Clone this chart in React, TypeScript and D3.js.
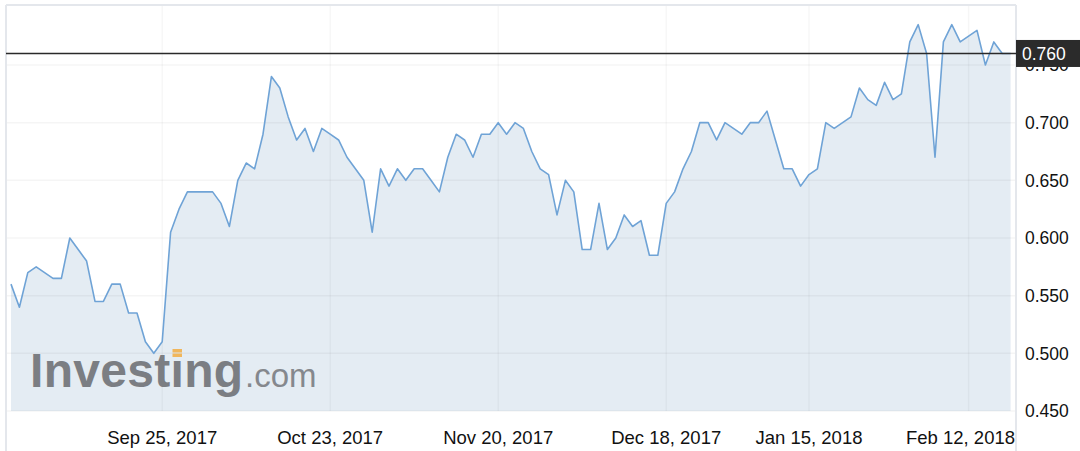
import React from "react";
import * as d3 from "d3";

// Closing prices, one per trading day (index-based x axis)
const prices: number[] = [
  0.56, 0.54, 0.57, 0.575, 0.57, 0.565, 0.565, 0.6, 0.59, 0.58,
  0.545, 0.545, 0.56, 0.56, 0.535, 0.535, 0.51, 0.5, 0.51, 0.605,
  0.625, 0.64, 0.64, 0.64, 0.64, 0.63, 0.61, 0.65, 0.665, 0.66,
  0.69, 0.74, 0.73, 0.705, 0.685, 0.695, 0.675, 0.695, 0.69, 0.685,
  0.67, 0.66, 0.65, 0.605, 0.66, 0.645, 0.66, 0.65, 0.66, 0.66,
  0.65, 0.64, 0.67, 0.69, 0.685, 0.67, 0.69, 0.69, 0.7, 0.69,
  0.7, 0.695, 0.675, 0.66, 0.655, 0.62, 0.65, 0.64, 0.59, 0.59,
  0.63, 0.59, 0.6, 0.62, 0.61, 0.615, 0.585, 0.585, 0.63, 0.64,
  0.66, 0.675, 0.7, 0.7, 0.685, 0.7, 0.695, 0.69, 0.7, 0.7,
  0.71, 0.685, 0.66, 0.66, 0.645, 0.655, 0.66, 0.7, 0.695, 0.7,
  0.705, 0.73, 0.72, 0.715, 0.735, 0.72, 0.725, 0.77, 0.785, 0.76,
  0.67, 0.77, 0.785, 0.77, 0.775, 0.78, 0.75, 0.77, 0.76, 0.76,
];

// X-axis ticks: trading-day index and label
const xTickIndex: number[] = [18, 38, 58, 78, 95, 114];
const xTickLabels: string[] = [
  "Sep 25, 2017",
  "Oct 23, 2017",
  "Nov 20, 2017",
  "Dec 18, 2017",
  "Jan 15, 2018",
  "Feb 12, 2018",
];

const yTicks: number[] = [0.45, 0.5, 0.55, 0.6, 0.65, 0.7, 0.75];
const currentPrice = 0.76;

const W = 1080;
const H = 451;
const frameL = 6;
const frameR = 1016;
const frameT = 5;
const plotBottom = 411;

export default function App() {
  const x = d3.scaleLinear().domain([0, prices.length - 1]).range([11, 1010.6]);
  const y = d3.scaleLinear().domain([0.45, 0.75]).range([plotBottom, 65]);

  const area = d3
    .area<number>()
    .x((_, i) => x(i))
    .y0(plotBottom)
    .y1((d) => y(d));
  const line = d3
    .line<number>()
    .x((_, i) => x(i))
    .y((d) => y(d));

  const font = "'Liberation Sans', Arial, Helvetica, sans-serif";
  const cy = y(currentPrice);

  return (
    <svg
      width={W}
      height={H}
      style={{ position: "absolute", left: 0, top: 0, background: "#fff" }}
      fontFamily={font}
    >
      <rect x={0} y={0} width={W} height={H} fill="#fff" />
      {/* area fill */}
      <path d={area(prices) || ""} fill="#e4ecf3" />

      {/* grid */}
      {yTicks.map((t) => (
        <line
          key={"gy" + t}
          x1={frameL}
          x2={frameR}
          y1={y(t)}
          y2={y(t)}
          stroke="#000"
          strokeOpacity={0.04}
          strokeWidth={1.5}
        />
      ))}
      {xTickIndex.map((ti) => (
        <line
          key={"gx" + ti}
          x1={x(ti)}
          x2={x(ti)}
          y1={frameT}
          y2={plotBottom}
          stroke="#000"
          strokeOpacity={0.035}
          strokeWidth={1.5}
        />
      ))}

      {/* watermark */}
      <g>
        <text
          x={30}
          y={387}
          fontSize={48}
          fontWeight="bold"
          fill="#7b7e83"
          letterSpacing={0.3}
        >
          Investıng
        </text>
        <rect x={172.5} y={349} width={9.5} height={3.5} fill="#f0b65c" />
        <rect x={172.5} y={353.5} width={9.5} height={3.5} fill="#f0b65c" />
        <text x={245} y={387} fontSize={33} fill="#85888d">
          .com
        </text>
      </g>

      {/* price line */}
      <path
        d={line(prices) || ""}
        fill="none"
        stroke="#6fa3d6"
        strokeWidth={1.6}
        strokeLinejoin="round"
      />

      {/* frame */}
      <line x1={frameL} x2={frameR} y1={frameT} y2={frameT} stroke="#e4e7ec" strokeWidth={2} />
      <line x1={frameL} x2={frameL} y1={frameT} y2={H} stroke="#e4e7ec" strokeWidth={2} />
      <line x1={frameR} x2={frameR} y1={frameT} y2={H} stroke="#e4e7ec" strokeWidth={2} />

      {/* y labels */}
      {yTicks.map((t) => (
        <text
          key={"ly" + t}
          x={1025}
          y={y(t)}
          dy="0.36em"
          fontSize={17.5}
          fill="#111"
        >
          {t.toFixed(3)}
        </text>
      ))}

      {/* x labels */}
      {xTickIndex.map((ti, k) => {
        const px = x(ti);
        const half = 56;
        const clamp = px + half > frameR;
        return (
          <text
            key={"lx" + ti}
            x={clamp ? frameR - 1 : px}
            y={444}
            fontSize={18.5}
            fill="#111"
            textAnchor={clamp ? "end" : "middle"}
          >
            {xTickLabels[k]}
          </text>
        );
      })}

      {/* current price line & label */}
      <line x1={frameL} x2={frameR} y1={cy} y2={cy} stroke="#2a2a2a" strokeWidth={1.6} />
      <rect x={frameR} y={cy - 13.5} width={W - frameR} height={27} fill="#2b2b2b" />
      <text x={1022} y={cy} dy="0.36em" fontSize={17.5} fill="#fff">
        {currentPrice.toFixed(3)}
      </text>
    </svg>
  );
}
